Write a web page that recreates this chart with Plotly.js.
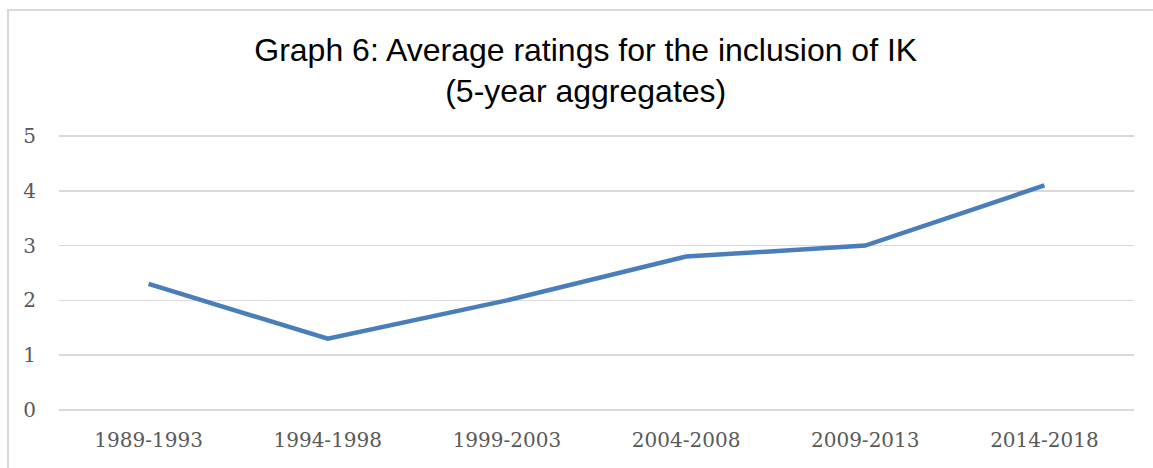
<!DOCTYPE html>
<html>
<head>
<meta charset="utf-8">
<script src="https://cdn.plot.ly/plotly-3.0.1.min.js"></script>
<style>
  html, body { margin: 0; padding: 0; background: #fff; overflow: hidden; }
  #chart { position: absolute; left: 0; top: 0; width: 1153px; height: 468px; }
  #frame { position: absolute; left: 7px; top: 9px; width: 1200px; height: 500px;
           border: 2px solid #d9d9d9; box-sizing: border-box; pointer-events: none; }
</style>
</head>
<body>
<div id="chart"></div>
<div id="frame"></div>
<script>
const periods = ["1989-1993", "1994-1998", "1999-2003", "2004-2008", "2009-2013", "2014-2018"];
const avgRatings = [2.3, 1.3, 2.0, 2.8, 3.0, 4.1];
const yTicks = [0, 1, 2, 3, 4, 5];

const trace = {
  x: periods,
  y: avgRatings,
  type: "scatter",
  mode: "lines",
  line: { color: "#4a7ebb", width: 4.5 },
  hoverinfo: "x+y"
};

const tickFont = { family: "DejaVu Serif, serif", size: 20, color: "#595959" };

const layout = {
  width: 1153,
  height: 468,
  autosize: false,
  paper_bgcolor: "rgba(0,0,0,0)",
  plot_bgcolor: "rgba(0,0,0,0)",
  margin: { l: 59, r: 19, t: 135, b: 57 },
  showlegend: false,
  title: {
    text: "Graph 6: Average ratings for the inclusion of IK<br>(5-year aggregates)",
    font: { family: "Liberation Sans, Arial, sans-serif", size: 32, color: "#000000" },
    x: 0.508,
    xanchor: "center",
    y: 0.87,
    yanchor: "top"
  },
  xaxis: {
    type: "category",
    range: [-0.5, 5.5],
    showgrid: false,
    zeroline: false,
    showline: false,
    ticks: "outside",
    ticklen: 11,
    tickcolor: "rgba(0,0,0,0)",
    tickfont: tickFont
  },
  yaxis: {
    range: [-0.02, 5.02],
    tickvals: yTicks,
    ticktext: yTicks.map(String),
    showgrid: true,
    gridcolor: "#d9d9d9",
    gridwidth: 1.5,
    zeroline: false,
    showline: false,
    ticks: "outside",
    ticklen: 18,
    tickcolor: "rgba(0,0,0,0)",
    tickfont: tickFont
  }
};

Plotly.newPlot("chart", [trace], layout, { displayModeBar: false, staticPlot: true });
</script>
</body>
</html>
